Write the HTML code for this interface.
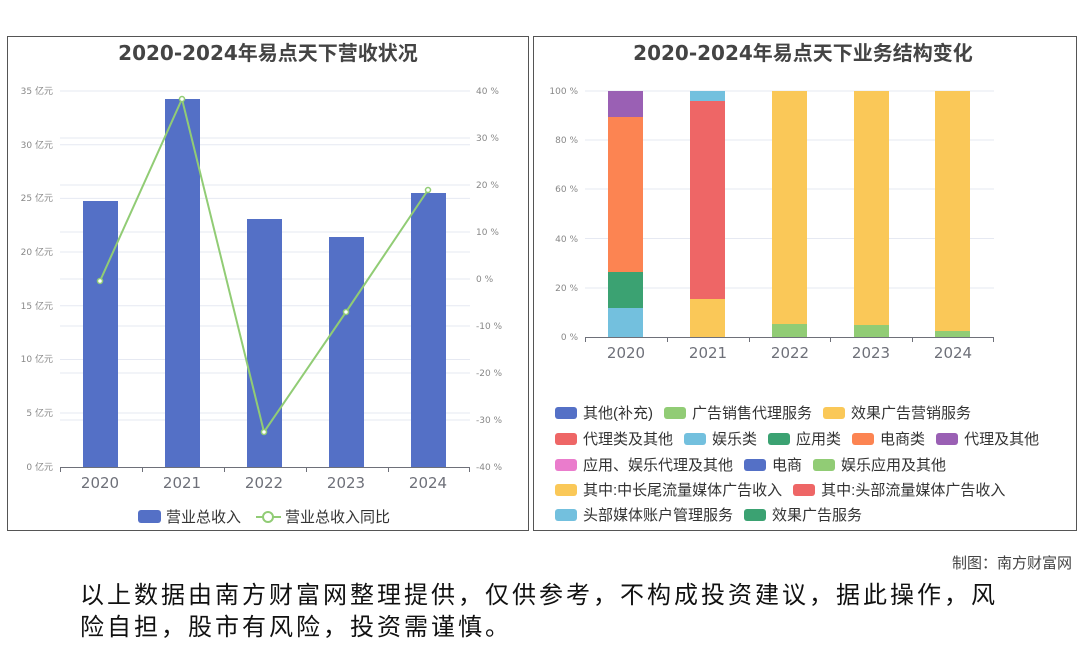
<!DOCTYPE html>
<html><head><meta charset="utf-8"><style>
body{margin:0;width:1080px;height:646px;background:#fff;font-family:"DejaVu Sans","Noto Sans CJK SC",sans-serif;position:relative;overflow:hidden}
.lg{position:absolute;font-size:15px;color:#333;white-space:nowrap;line-height:18px;font-family:"Liberation Sans","Noto Sans CJK SC",sans-serif}
.sw{display:inline-block;width:22px;height:12px;border-radius:3px;vertical-align:-1px;margin-right:6px}
.it{margin-right:11px}
</style></head><body>
<svg width="1080" height="646" style="position:absolute;left:0;top:0" font-family="DejaVu Sans, Noto Sans CJK SC, sans-serif">
<rect x="7.5" y="36.5" width="521" height="494" fill="none" stroke="#555"/>
<rect x="533.5" y="36.5" width="543" height="494" fill="none" stroke="#555"/>
<text x="268" y="60" text-anchor="middle" font-size="20" font-weight="bold" fill="#444">2020-2024年易点天下营收状况</text>
<text x="803" y="60" text-anchor="middle" font-size="20" font-weight="bold" fill="#444">2020-2024年易点天下业务结构变化</text>
<g stroke="#e6e9f2" stroke-width="1">
<line x1="60" x2="470" y1="91" y2="91"/><line x1="60" x2="470" y1="144.7" y2="144.7"/><line x1="60" x2="470" y1="198.4" y2="198.4"/><line x1="60" x2="470" y1="252" y2="252"/><line x1="60" x2="470" y1="305.8" y2="305.8"/><line x1="60" x2="470" y1="359.5" y2="359.5"/><line x1="60" x2="470" y1="413" y2="413"/>
<line x1="60" x2="470" y1="138" y2="138"/><line x1="60" x2="470" y1="185" y2="185"/><line x1="60" x2="470" y1="232" y2="232"/><line x1="60" x2="470" y1="279" y2="279"/><line x1="60" x2="470" y1="326" y2="326"/><line x1="60" x2="470" y1="373" y2="373"/><line x1="60" x2="470" y1="420" y2="420"/>
<line x1="585" x2="994" y1="91" y2="91"/><line x1="585" x2="994" y1="140" y2="140"/><line x1="585" x2="994" y1="189" y2="189"/><line x1="585" x2="994" y1="238.5" y2="238.5"/><line x1="585" x2="994" y1="288" y2="288"/>
</g>
<g font-size="9" fill="#888" text-anchor="end">
<text x="53" y="94">35 亿元</text><text x="53" y="148">30 亿元</text><text x="53" y="201">25 亿元</text><text x="53" y="255">20 亿元</text><text x="53" y="309">15 亿元</text><text x="53" y="362">10 亿元</text><text x="53" y="416">5 亿元</text><text x="53" y="470">0 亿元</text>
<text x="578" y="94">100 %</text><text x="578" y="143">80 %</text><text x="578" y="192">60 %</text><text x="578" y="242">40 %</text><text x="578" y="291">20 %</text><text x="578" y="340">0 %</text>
</g>
<g font-size="9" fill="#888">
<text x="476" y="94">40 %</text><text x="476" y="141">30 %</text><text x="476" y="188">20 %</text><text x="476" y="235">10 %</text><text x="476" y="282">0 %</text><text x="476" y="329">-10 %</text><text x="476" y="376">-20 %</text><text x="476" y="423">-30 %</text><text x="476" y="470">-40 %</text>
</g>
<g fill="#5470c6">
<rect x="83" y="201" width="35" height="266"/><rect x="165" y="99" width="35" height="368"/><rect x="247" y="219" width="35" height="248"/><rect x="329" y="237" width="35" height="230"/><rect x="411" y="193" width="35" height="274"/>
</g>
<polyline points="100,281 182,99 264,432 346,312 428,190" fill="none" stroke="#91cc75" stroke-width="2"/>
<g fill="#fff" stroke="#91cc75" stroke-width="1.5"><circle cx="100" cy="281" r="2.5"/><circle cx="182" cy="99" r="2.5"/><circle cx="264" cy="432" r="2.5"/><circle cx="346" cy="312" r="2.5"/><circle cx="428" cy="190" r="2.5"/></g>
<g stroke="#6e7079"><line x1="60" x2="470" y1="467.5" y2="467.5"/>
<line x1="60.5" x2="60.5" y1="467" y2="472"/><line x1="142.5" x2="142.5" y1="467" y2="472"/><line x1="224.5" x2="224.5" y1="467" y2="472"/><line x1="306.5" x2="306.5" y1="467" y2="472"/><line x1="388.5" x2="388.5" y1="467" y2="472"/><line x1="469.5" x2="469.5" y1="467" y2="472"/>
<line x1="585" x2="994" y1="337.5" y2="337.5"/>
<line x1="585.5" x2="585.5" y1="337" y2="342"/><line x1="667.5" x2="667.5" y1="337" y2="342"/><line x1="749.5" x2="749.5" y1="337" y2="342"/><line x1="830.5" x2="830.5" y1="337" y2="342"/><line x1="912.5" x2="912.5" y1="337" y2="342"/><line x1="993.5" x2="993.5" y1="337" y2="342"/></g>
<g font-size="15" fill="#6e7079" text-anchor="middle">
<text x="100" y="488">2020</text><text x="182" y="488">2021</text><text x="264" y="488">2022</text><text x="346" y="488">2023</text><text x="428" y="488">2024</text>
<text x="626" y="358">2020</text><text x="708" y="358">2021</text><text x="790" y="358">2022</text><text x="871" y="358">2023</text><text x="953" y="358">2024</text>
</g>
<rect x="608" y="308" width="35" height="29" fill="#73c0de"/><rect x="608" y="272" width="35" height="36" fill="#3ba272"/><rect x="608" y="117" width="35" height="155" fill="#fc8452"/><rect x="608" y="91" width="35" height="26" fill="#9a60b4"/>
<rect x="690" y="299" width="35" height="38" fill="#fac858"/><rect x="690" y="101" width="35" height="198" fill="#ee6666"/><rect x="690" y="91" width="35" height="10" fill="#73c0de"/>
<rect x="772" y="91" width="35" height="233" fill="#fac858"/><rect x="772" y="324" width="35" height="13" fill="#91cc75"/>
<rect x="854" y="91" width="35" height="234" fill="#fac858"/><rect x="854" y="325" width="35" height="12" fill="#91cc75"/>
<rect x="935" y="91" width="35" height="240" fill="#fac858"/><rect x="935" y="331" width="35" height="6" fill="#91cc75"/>
<rect x="138" y="510" width="23" height="13" rx="3" fill="#5470c6"/>
<text x="166" y="522" font-size="15" fill="#333">营业总收入</text>
<line x1="256" x2="281" y1="517" y2="517" stroke="#91cc75" stroke-width="2"/><circle cx="268" cy="517" r="5" fill="#fff" stroke="#91cc75" stroke-width="2"/>
<text x="285" y="522" font-size="15" fill="#333">营业总收入同比</text>
</svg>
<div class="lg" style="left:555px;top:405px"><span class="it"><span class="sw" style="background:#5470c6"></span>其他(补充)</span><span class="it"><span class="sw" style="background:#91cc75"></span>广告销售代理服务</span><span class="it"><span class="sw" style="background:#fac858"></span>效果广告营销服务</span></div>
<div class="lg" style="left:555px;top:431px"><span class="it"><span class="sw" style="background:#ee6666"></span>代理类及其他</span><span class="it"><span class="sw" style="background:#73c0de"></span>娱乐类</span><span class="it"><span class="sw" style="background:#3ba272"></span>应用类</span><span class="it"><span class="sw" style="background:#fc8452"></span>电商类</span><span class="it"><span class="sw" style="background:#9a60b4"></span>代理及其他</span></div>
<div class="lg" style="left:555px;top:457px"><span class="it"><span class="sw" style="background:#ea7ccc"></span>应用、娱乐代理及其他</span><span class="it"><span class="sw" style="background:#5470c6"></span>电商</span><span class="it"><span class="sw" style="background:#91cc75"></span>娱乐应用及其他</span></div>
<div class="lg" style="left:555px;top:482px"><span class="it"><span class="sw" style="background:#fac858"></span>其中:中长尾流量媒体广告收入</span><span class="it"><span class="sw" style="background:#ee6666"></span>其中:头部流量媒体广告收入</span></div>
<div class="lg" style="left:555px;top:507px"><span class="it"><span class="sw" style="background:#73c0de"></span>头部媒体账户管理服务</span><span class="it"><span class="sw" style="background:#3ba272"></span>效果广告服务</span></div>
<div style="position:absolute;right:8px;top:552px;font-size:15px;color:#444;font-family:'Liberation Sans','Noto Sans CJK SC',sans-serif">制图：南方财富网</div>
<div style="position:absolute;left:80px;top:580px;width:935px;font-size:24px;letter-spacing:3px;line-height:32px;color:#111;font-family:'Liberation Sans','Noto Sans CJK SC',sans-serif">以上数据由南方财富网整理提供，仅供参考，不构成投资建议，据此操作，风险自担，股市有风险，投资需谨慎。</div>
</body></html>
